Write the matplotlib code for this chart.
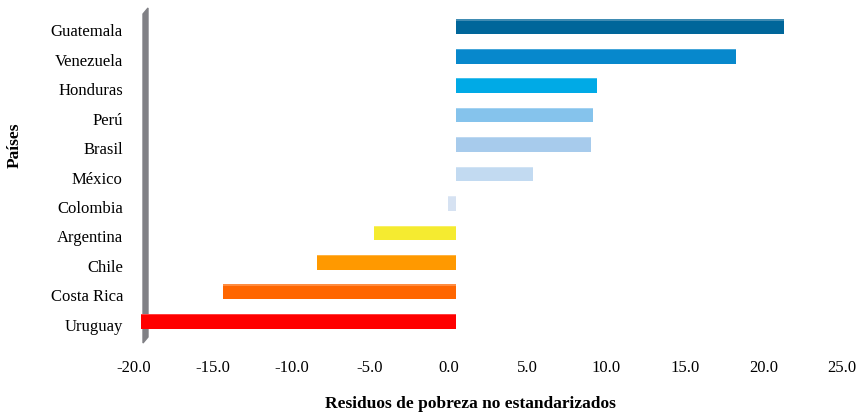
import numpy as np
import matplotlib
matplotlib.use('Agg')
import matplotlib.pyplot as plt
from matplotlib.colors import to_rgb
from matplotlib.patches import Polygon
from matplotlib.transforms import ScaledTranslation

# Residuals per country
countries = ['Guatemala', 'Venezuela', 'Honduras', 'Perú', 'Brasil', 'México',
             'Colombia', 'Argentina', 'Chile', 'Costa Rica', 'Uruguay']
residuals = [20.9, 17.8, 9.0, 8.7, 8.6, 4.9, -0.5, -5.2, -8.8, -14.8, -20.0]
colors = ['#00669a', '#0788cc', '#00aae6', '#85c3ec', '#a7cbec', '#c2daf1',
          '#d6e2f2', '#f5eb30', '#ff9900', '#ff6600', '#ff0000']
xticks = [-20, -15, -10, -5, 0, 5, 10, 15, 20, 25]

plt.rcParams['font.family'] = ['Liberation Serif', 'DejaVu Serif']

W, H = 859, 417
fig = plt.figure(figsize=(W / 100, H / 100), dpi=100)
ax = fig.add_axes([134 / W, 1 - 336 / H, 708 / W, 324 / H])
ax.patch.set_alpha(0)

ypos = np.arange(len(countries))
# 3D-look offset of the bars relative to the axis labels
shift = ax.transData + ScaledTranslation(7 / 100, 0, fig.dpi_scale_trans)

ax.barh(ypos, residuals, height=0.5, color=colors, transform=shift, zorder=3)
# light bevel on top of each bar
light = [tuple(c + (1 - c) * 0.25 for c in to_rgb(col)) for col in colors]
ax.barh(ypos - 0.23, residuals, height=0.04, color=light, transform=shift, zorder=4)

ax.set_xlim(-20, 25)
ax.set_ylim(len(countries) - 0.5, -0.5)
ax.set_xticks(xticks)
ax.set_xticklabels([f'{v:.1f}' for v in xticks], fontsize=12)
ax.set_yticks(ypos + 0.12)
ax.set_yticklabels(countries, fontsize=12)
ax.tick_params(axis='x', length=0, pad=17)
ax.tick_params(axis='y', length=0, pad=8)
for s in ax.spines.values():
    s.set_visible(False)

# gray side wall, behind the bars
wall = Polygon([(143 / W, 1 - 14 / H), (148 / W, 1 - 8 / H),
                (148 / W, 1 - 337 / H), (143 / W, 1 - 343 / H)],
               closed=True, transform=fig.transFigure, color='#808085', zorder=-1)
fig.patches.append(wall)

fig.text(470 / W, 1 - 404 / H, 'Residuos de pobreza no estandarizados',
         ha='center', va='center', fontsize=12.5, fontweight='bold')
fig.text(15 / W, 1 - 145 / H, 'Países', ha='center', va='center',
         rotation=90, fontsize=12.5, fontweight='bold')

fig.savefig('out.png', dpi=100)
